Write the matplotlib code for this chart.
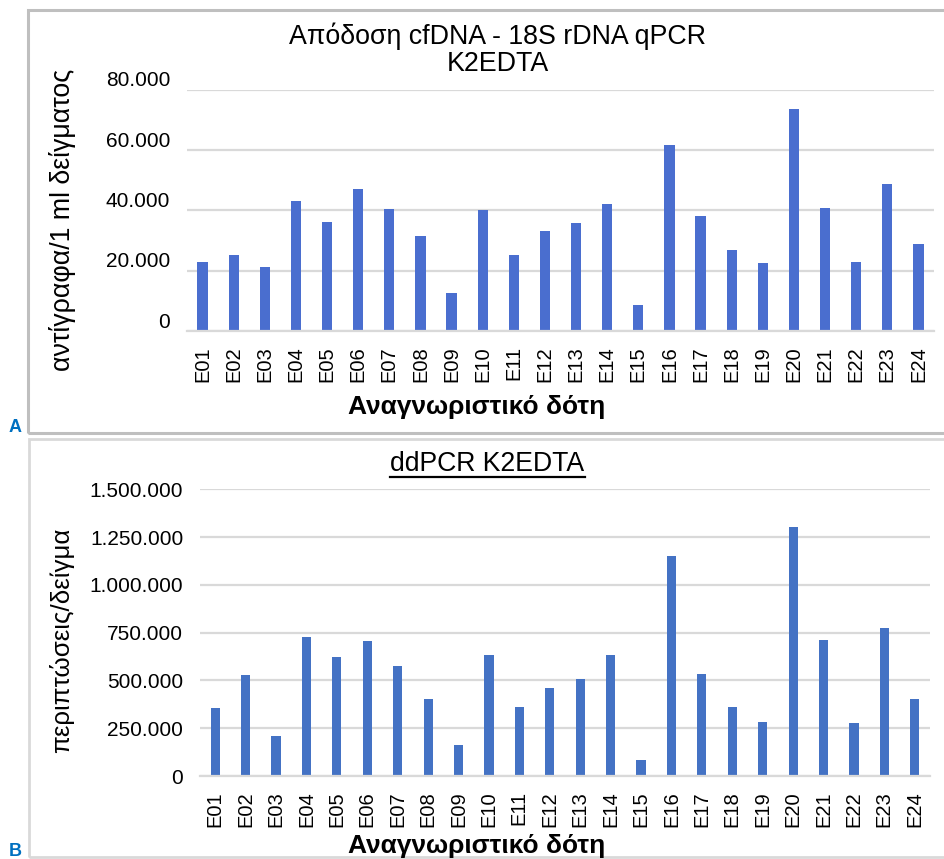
import matplotlib
matplotlib.use("Agg")
import matplotlib.pyplot as plt
from matplotlib.patches import Rectangle
from matplotlib.ticker import FuncFormatter
from matplotlib.transforms import ScaledTranslation

plt.rcParams['font.family'] = ['Liberation Sans', 'DejaVu Sans']

# Δεδομένα
donors = [f"E{i:02d}" for i in range(1, 25)]
qpcr_copies = [23000, 25100, 21300, 43000, 36200, 47200, 40500, 31500, 12500, 40100,
               25100, 33300, 35800, 42100, 8500, 61700, 38200, 26900, 22500, 73600,
               40900, 23000, 48600, 28900]
ddpcr_events = [354000, 528000, 208000, 729000, 623000, 705000, 576000, 403000, 160000, 635000,
                361000, 462000, 509000, 635000, 85000, 1153000, 535000, 361000, 281000, 1301000,
                710000, 276000, 776000, 401000]
qpcr_ticks = [0, 20000, 40000, 60000, 80000]
ddpcr_ticks = [0, 250000, 500000, 750000, 1000000, 1250000, 1500000]

W, H = 945, 859
fig = plt.figure(figsize=(W / 100, H / 100), dpi=100)


def fx(px):
    return px / W


def fy(py):
    return 1 - py / H


dots = FuncFormatter(lambda v, p: f"{v:,.0f}".replace(",", "."))

# Πλαίσια
fig.patches.append(Rectangle((fx(28), fy(433)), fx(930), (433 - 10) / H, transform=fig.transFigure,
                             fill=False, edgecolor='#bfbfbf', linewidth=2.2))
fig.patches.append(Rectangle((fx(29), fy(857)), fx(930), (857 - 439) / H, transform=fig.transFigure,
                             fill=False, edgecolor='#d9d9d9', linewidth=2.0))


def style(ax, ticks, top):
    ax.set_ylim(0, top)
    ax.set_xlim(-0.5, len(donors) - 0.5)
    ax.set_yticks(ticks)
    ax.yaxis.set_major_formatter(dots)
    ax.grid(axis='y', color='#d9d9d9', linewidth=1.6)
    ax.set_axisbelow(True)
    for s in ['top', 'right', 'left']:
        ax.spines[s].set_visible(False)
    ax.spines['bottom'].set_color('#d9d9d9')
    ax.spines['bottom'].set_linewidth(1.6)
    ax.tick_params(axis='both', length=0, labelsize=15, colors='black')
    ax.tick_params(axis='y', pad=12)
    ax.tick_params(axis='x', pad=11, labelsize=14.5, labelrotation=90)


# A: qPCR
axA = fig.add_axes([fx(187), fy(331), 747 / W, (331 - 89.7) / H])
axA.bar(donors, qpcr_copies, width=0.33, color='#4A6ECF')
style(axA, qpcr_ticks, 80000)
for lab in axA.get_yticklabels():
    lab.set_transform(lab.get_transform() + ScaledTranslation(0, 0.11, fig.dpi_scale_trans))

fig.text(fx(498), fy(50), "Απόδοση cfDNA - 18S rDNA qPCR\nK2EDTA", ha='center', va='center',
         fontsize=19.3, linespacing=1.05)
fig.text(fx(477), fy(407), "Αναγνωριστικό δότη", ha='center', va='center', fontsize=19, fontweight='bold')
fig.text(fx(63), fy(220), "αντίγραφα/1 ml δείγματος", ha='center', va='center', rotation=90, fontsize=19.3)
fig.text(fx(15), fy(428), "A", ha='center', va='center', fontsize=13, fontweight='bold', color='#0070C0')

# B: ddPCR
axB = fig.add_axes([fx(200), fy(776), 730 / W, (776 - 489.3) / H])
axB.bar(donors, ddpcr_events, width=0.3, color='#4472C4')
style(axB, ddpcr_ticks, 1500000)

tB = fig.text(fx(487.5), fy(464), "ddPCR K2EDTA", ha='center', va='center', fontsize=19.2)
fig.canvas.draw()
bb = tB.get_window_extent()
fig.add_artist(plt.Line2D([bb.x0 / fig.dpi / fig.get_figwidth(), bb.x1 / fig.dpi / fig.get_figwidth()],
                          [fy(477)] * 2, transform=fig.transFigure, color='black', linewidth=1.6))
fig.text(fx(477), fy(846), "Αναγνωριστικό δότη", ha='center', va='center', fontsize=19, fontweight='bold')
fig.text(fx(62), fy(640), "περιπτώσεις/δείγμα", ha='center', va='center', rotation=90, fontsize=18.6)
fig.text(fx(15), fy(851), "B", ha='center', va='center', fontsize=13, fontweight='bold', color='#0070C0')

fig.savefig("out.png", dpi=100)
